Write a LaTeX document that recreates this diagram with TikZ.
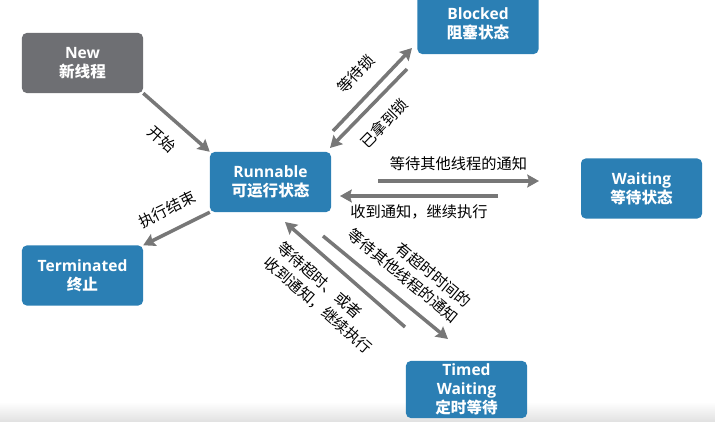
\documentclass[tikz,border=0pt]{standalone}
\usepackage{fontspec}
\setmainfont{Open Sans}
\newfontfamily\cjk{Noto Sans CJK SC}
\usetikzlibrary{arrows.meta}
\definecolor{boxblue}{HTML}{2B7FB4}
\definecolor{boxgray}{HTML}{6E6F73}
\definecolor{arrowgray}{HTML}{777777}

\begin{document}
\begin{tikzpicture}
  [x=0.03cm, y=-0.03cm,
   state/.style={rectangle, rounded corners=4pt, fill=boxblue, text=white, align=center,
     font=\fontsize{13.3}{16}\selectfont\bfseries, minimum width=3.63cm, minimum height=1.8cm, inner sep=1pt},
   arr/.style={line width=3pt, draw=arrowgray, -{Stealth[length=10pt,width=11pt,inset=1.5pt]}},
   lbl/.style={font=\cjk\fontsize{13}{17}\selectfont, sloped, inner sep=1pt}]

  \useasboundingbox (0,0) rectangle (715,422);
  \clip (0,0) rectangle (715,422);
  \shade[top color=white, bottom color=black!12] (0,402) rectangle (715,422);

  % States
  \node[state, fill=boxgray] (new) at (82.5,63) {New\\{\cjk 新线程}};
  \node[state] (run) at (270.5,182) {Runnable\\{\cjk 可运行状态}};
  \node[state] (blk) at (478,24) {Blocked\\{\cjk 阻塞状态}};
  \node[state] (wait) at (641.5,188.5) {Waiting\\{\cjk 等待状态}};
  \node[state] (term) at (82.5,275.5) {Terminated\\{\cjk 终止}};
  \node[state, minimum height=1.71cm] (timed) at (466.5,389.5) {Timed\\Waiting\\{\cjk 定时等待}};

  % Ends of the parallel arrows
  \coordinate (b1) at (333,131); \coordinate (b2) at (412,48);
  \coordinate (b3) at (407,69);  \coordinate (b4) at (330,148);
  \coordinate (w1) at (378,181); \coordinate (w2) at (539,181);
  \coordinate (w3) at (498,196); \coordinate (w4) at (340,196);
  \coordinate (t1) at (323,236); \coordinate (t2) at (448,339);
  \coordinate (t3) at (405,327); \coordinate (t4) at (285,222);

  % Transitions
  \draw[arr] (new.south east) -- node[lbl, below=10pt] {开始} (run.north west);
  \draw[arr] (run.south west) -- node[lbl, above=10pt] {执行结束} (term.north east);
  \draw[arr] (b1) -- node[lbl, above=11pt] {等待锁} (b2);
  \draw[arr] (b3) -- node[lbl, below=10pt] {已拿到锁} (b4);
  \draw[arr] (w1) -- node[lbl, above=6pt] {等待其他线程的通知} (w2);
  \draw[arr] (w3) -- node[lbl, below=5pt] {收到通知，继续执行} (w4);
  \draw[arr] (t1) -- node[lbl, above=9pt, pos=0.54, align=right] {有超时时间的\\等待其他线程的通知} (t2);
  \draw[arr] (t3) -- node[lbl, below=9pt, pos=0.5, align=left] {等待超时、或者\\收到通知，继续执行} (t4);
\end{tikzpicture}
\end{document}
